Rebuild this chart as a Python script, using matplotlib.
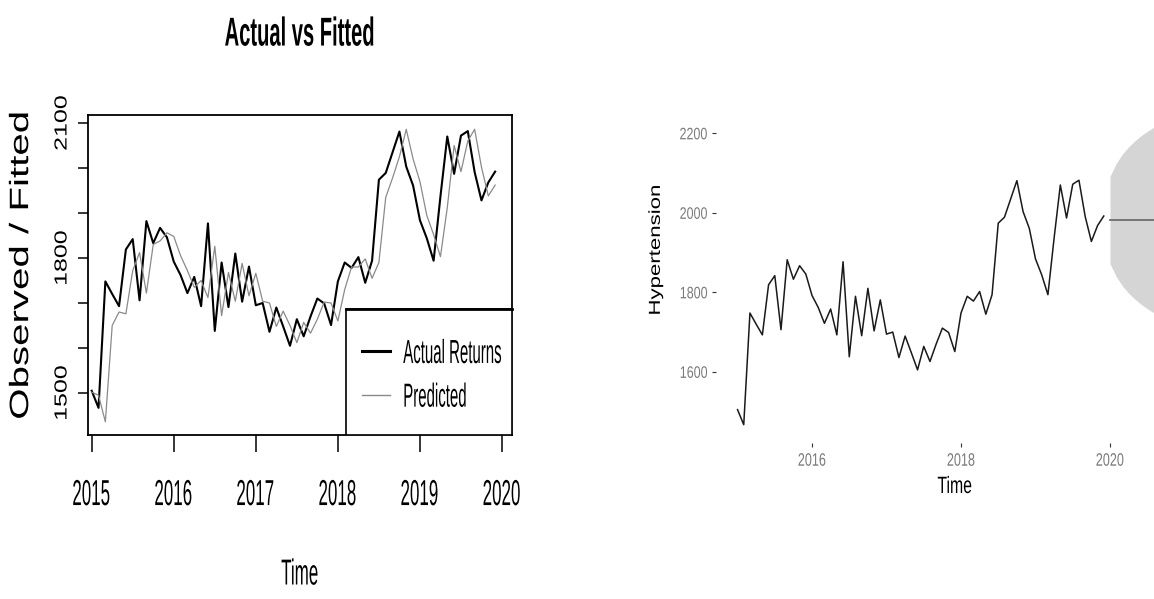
import numpy as np
import matplotlib
matplotlib.use('Agg')
import matplotlib.pyplot as plt
from matplotlib.lines import Line2D
from matplotlib.patches import Rectangle
from matplotlib.patheffects import AbstractPathEffect
from matplotlib.transforms import Affine2D

plt.rcParams['font.family'] = ['Liberation Sans', 'DejaVu Sans']

#------------------------------DATA-------------------------------------------------
start_year = 2015

# monthly hypertension cases, Jan 2015 - Dec 2019
actual = [1505, 1467, 1748, 1720, 1693, 1819, 1842, 1706, 1882, 1833, 1867, 1846,
          1792, 1762, 1722, 1758, 1693, 1877, 1638, 1790, 1691, 1810, 1703, 1781,
          1695, 1700, 1636, 1690, 1648, 1605, 1664, 1626, 1670, 1710, 1699, 1651,
          1748, 1790, 1778, 1802, 1745, 1794, 1974, 1989, 2035, 2081, 2003, 1961,
          1884, 1844, 1794, 1937, 2070, 1987, 2072, 2082, 1991, 1928, 1968, 1992]

# fitted values from the model
fitted = [1502, 1495, 1436, 1650, 1680, 1676, 1772, 1812, 1722, 1830, 1838, 1856,
          1848, 1805, 1772, 1735, 1750, 1712, 1826, 1672, 1768, 1704, 1788, 1716,
          1766, 1704, 1700, 1648, 1682, 1650, 1612, 1657, 1633, 1664, 1702, 1700,
          1660, 1730, 1780, 1780, 1798, 1755, 1790, 1935, 1978, 2025, 2086, 2020,
          1970, 1895, 1852, 1803, 1912, 2050, 1992, 2060, 2086, 2002, 1938, 1962]

# forecast from Jan 2020 with its prediction interval
fc_mean = [1982, 1982, 1982, 1982, 1982, 1982, 1982, 1982,
           1982, 1982, 1982, 1982, 1982, 1982, 1982, 1982]
fc_lo = [1872, 1840, 1816, 1798, 1783, 1770, 1759, 1749,
         1740, 1732, 1724, 1717, 1711, 1705, 1699, 1694]
fc_hi = [2092, 2124, 2148, 2166, 2181, 2194, 2205, 2215,
         2224, 2232, 2240, 2247, 2253, 2259, 2265, 2270]

months = start_year + np.arange(len(actual)) / 12
fc_months = months[-1] + (np.arange(len(fc_mean)) + 1) / 12


#------------------------------NARROW TEXT-------------------------------------------------
class Squeeze(AbstractPathEffect):
    """Draws the glyphs narrower along screen x, pinned at the left, right or middle."""

    def __init__(self, sx, anchor='center'):
        super().__init__()
        self.sx = sx
        self.anchor = anchor

    def draw_path(self, renderer, gc, tpath, affine, rgbFace=None):
        if len(tpath.vertices) == 0:
            return
        xs = affine.transform(tpath.vertices)[:, 0]
        if self.anchor == 'left':
            x0 = xs.min()
        elif self.anchor == 'right':
            x0 = xs.max()
        else:
            x0 = 0.5 * (xs.min() + xs.max())
        squeeze = Affine2D().translate(-x0, 0).scale(self.sx, 1).translate(x0, 0)
        renderer.draw_path(gc, tpath, affine + squeeze, rgbFace)


W, H = 1154, 599


def px_box(left, top, right, bottom):
    # axes rectangle given in pixels from the top-left corner
    return [left / W, 1 - bottom / H, (right - left) / W, (bottom - top) / H]


fig = plt.figure(figsize=(W / 100, H / 100), dpi=100)

#------------------------------LEFT: ACTUAL VS FITTED-------------------------------------------------
ax1 = fig.add_axes(px_box(88, 115, 512, 435))
ax1.plot(months, actual, color='black', linewidth=1.5)
ax1.plot(months, fitted, color='#8a8a8a', linewidth=0.9)

ax1.set_xlim(2014.955, 2020.122)
ax1.set_ylim(1406.7, 2117.8)
for side in ax1.spines.values():
    side.set_linewidth(1.3)

ax1.set_xticks([2015, 2016, 2017, 2018, 2019, 2020])
ax1.set_xticklabels(['2015', '2016', '2017', '2018', '2019', '2020'], fontsize=26)
ax1.set_yticks([1500, 1600, 1700, 1800, 1900, 2000, 2100])
ax1.set_yticklabels(['1500', '', '', '1800', '', '', '2100'], fontsize=18,
                    rotation=90, va='center')
ax1.tick_params(axis='x', length=12, width=1.1, pad=19)
ax1.tick_params(axis='y', length=7, width=1.1, pad=3)

ax1.set_title('Actual vs Fitted', fontsize=29, fontweight='bold', pad=50)
ax1.set_xlabel('Time', fontsize=26, va='center')
ax1.xaxis.set_label_coords(0.5, -0.4375)
ax1.set_ylabel('Observed / Fitted', fontsize=29, va='center')
ax1.yaxis.set_label_coords(-0.1557, 0.53)

# legend box in the lower right corner
ax1.add_patch(Rectangle((0.6085, 0), 0.3915, 0.394, transform=ax1.transAxes,
                        facecolor='white', edgecolor='black', linewidth=1.2, zorder=3))
ax1.plot([0.6085, 1], [0.394, 0.394], transform=ax1.transAxes, color='black',
         linewidth=2, zorder=4, clip_on=False)
handles = [Line2D([0], [0], color='black', linewidth=2.2),
           Line2D([0], [0], color='#8a8a8a', linewidth=1.0)]
leg = ax1.legend(handles, ['Actual Returns', 'Predicted'], loc='upper left',
                 bbox_to_anchor=(0.646, 0.300), frameon=False, fontsize=24,
                 borderpad=0, borderaxespad=0, handlelength=0.85,
                 handletextpad=0.39, labelspacing=0.38)
leg.set_zorder(5)

for t in ax1.get_xticklabels() + [ax1.xaxis.label]:
    t.set_path_effects([Squeeze(0.47)])
ax1.title.set_path_effects([Squeeze(0.5)])
for t in leg.get_texts():
    t.set_path_effects([Squeeze(0.45, 'left')])
for t in ax1.get_yticklabels():
    t.set_path_effects([Squeeze(0.7)])
ax1.yaxis.label.set_path_effects([Squeeze(0.66)])

#------------------------------RIGHT: FORECAST-------------------------------------------------
ax2 = fig.add_axes(px_box(716, 57, 1190, 443))
ax2.fill_between(fc_months, fc_lo, fc_hi, color='#d5d5d5', linewidth=0)
ax2.plot(fc_months, fc_mean, color='#6e6e6e', linewidth=1.3)
ax2.plot(months, actual, color='#1a1a1a', linewidth=1.1)

ax2.set_xlim(2014.711, 2021.074)
ax2.set_ylim(1421, 2392)
for side in ax2.spines.values():
    side.set_visible(False)

ax2.set_xticks([2016, 2018, 2020])
ax2.set_yticks([1600, 1800, 2000, 2200])
ax2.tick_params(axis='both', length=3, width=0.8, color='#333333',
                labelcolor='#7a7a7a', labelsize=12, pad=3)
ax2.tick_params(axis='x', labelsize=13, pad=4)
ax2.set_xlabel('Time', fontsize=17, va='center')
ax2.xaxis.set_label_coords(0.504, -0.114)
ax2.set_ylabel('Hypertension', fontsize=16, va='center')
ax2.yaxis.set_label_coords(-0.1266, 0.5)

for t in ax2.get_xticklabels():
    t.set_path_effects([Squeeze(0.7)])
ax2.xaxis.label.set_path_effects([Squeeze(0.67)])
for t in ax2.get_yticklabels():
    t.set_path_effects([Squeeze(0.75, 'right')])
ax2.yaxis.label.set_path_effects([Squeeze(0.72)])

plt.savefig('out.png', dpi=100)
